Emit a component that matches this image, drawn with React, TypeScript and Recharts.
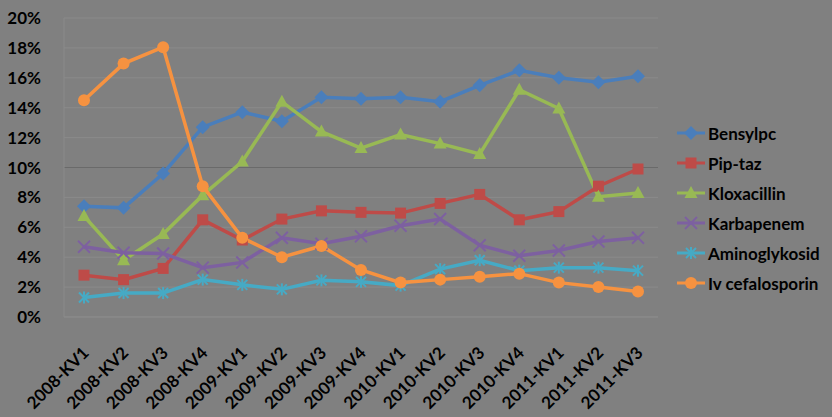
import React from "react";
import {
  LineChart,
  Line,
  XAxis,
  YAxis,
  CartesianGrid,
  ReferenceLine,
} from "recharts";

const quarters = [
  "2008-KV1", "2008-KV2", "2008-KV3", "2008-KV4",
  "2009-KV1", "2009-KV2", "2009-KV3", "2009-KV4",
  "2010-KV1", "2010-KV2", "2010-KV3", "2010-KV4",
  "2011-KV1", "2011-KV2", "2011-KV3",
];

const bensylpc = [7.4, 7.3, 9.6, 12.7, 13.7, 13.1, 14.7, 14.6, 14.7, 14.4, 15.5, 16.5, 16.0, 15.7, 16.1];
const pipTaz = [2.8, 2.5, 3.25, 6.5, 5.15, 6.55, 7.1, 7.0, 6.95, 7.6, 8.2, 6.5, 7.05, 8.75, 9.9];
const kloxacillin = [6.75, 3.8, 5.55, 8.15, 10.4, 14.4, 12.4, 11.3, 12.2, 11.6, 10.9, 15.2, 13.95, 8.05, 8.3];
const karbapenem = [4.7, 4.3, 4.25, 3.3, 3.65, 5.3, 4.9, 5.4, 6.1, 6.55, 4.8, 4.1, 4.45, 5.05, 5.3];
const aminoglykosid = [1.3, 1.6, 1.6, 2.5, 2.15, 1.85, 2.45, 2.35, 2.1, 3.2, 3.8, 3.1, 3.3, 3.3, 3.1];
const ivCefalosporin = [14.5, 16.95, 18.05, 8.75, 5.3, 4.0, 4.75, 3.15, 2.3, 2.5, 2.7, 2.9, 2.3, 2.0, 1.7];

const yTicks = [0, 2, 4, 6, 8, 10, 12, 14, 16, 18, 20];

const data = quarters.map((q, i) => ({
  q,
  bensylpc: bensylpc[i],
  pipTaz: pipTaz[i],
  kloxacillin: kloxacillin[i],
  karbapenem: karbapenem[i],
  aminoglykosid: aminoglykosid[i],
  ivCefalosporin: ivCefalosporin[i],
}));

const FONT = "Lato, 'DejaVu Sans', sans-serif";

type Shape = "diamond" | "square" | "triangle" | "x" | "star" | "circle";

const series: { key: string; name: string; color: string; shape: Shape }[] = [
  { key: "bensylpc", name: "Bensylpc", color: "#4a7ebb", shape: "diamond" },
  { key: "pipTaz", name: "Pip-taz", color: "#be4b48", shape: "square" },
  { key: "kloxacillin", name: "Kloxacillin", color: "#98b954", shape: "triangle" },
  { key: "karbapenem", name: "Karbapenem", color: "#7d60a0", shape: "x" },
  { key: "aminoglykosid", name: "Aminoglykosid", color: "#46aac5", shape: "star" },
  { key: "ivCefalosporin", name: "Iv cefalosporin", color: "#f69240", shape: "circle" },
];

function Marker({ cx, cy, shape, color }: { cx: number; cy: number; shape: Shape; color: string }) {
  if (cx == null || cy == null) return null;
  switch (shape) {
    case "diamond":
      return <polygon points={`${cx},${cy - 7} ${cx + 7},${cy} ${cx},${cy + 7} ${cx - 7},${cy}`} fill={color} />;
    case "square":
      return <rect x={cx - 5.5} y={cy - 5.5} width={11} height={11} fill={color} />;
    case "triangle":
      return <polygon points={`${cx},${cy - 7} ${cx + 6.5},${cy + 5} ${cx - 6.5},${cy + 5}`} fill={color} />;
    case "x":
      return (
        <g stroke={color} strokeWidth={2}>
          <line x1={cx - 6} y1={cy - 6} x2={cx + 6} y2={cy + 6} />
          <line x1={cx - 6} y1={cy + 6} x2={cx + 6} y2={cy - 6} />
        </g>
      );
    case "star":
      return (
        <g stroke={color} strokeWidth={2}>
          <line x1={cx - 5} y1={cy - 5} x2={cx + 5} y2={cy + 5} />
          <line x1={cx - 5} y1={cy + 5} x2={cx + 5} y2={cy - 5} />
          <line x1={cx} y1={cy - 6} x2={cx} y2={cy + 6} />
        </g>
      );
    default:
      return <circle cx={cx} cy={cy} r={6} fill={color} />;
  }
}

// rotated category labels, bold like the original
const XTick = (props: any) => {
  const { x, y, payload } = props;
  return (
    <g transform={`translate(${x + 6},${y + 29})`}>
      <text
        transform="rotate(-45)"
        textAnchor="end"
        fontFamily={FONT}
        fontWeight={700}
        fontSize={17}
        fill="#000"
      >
        {payload.value}
      </text>
    </g>
  );
};

export default function App() {
  return (
    <div style={{ position: "absolute", left: 0, top: 0, width: 832, height: 417, background: "#808080" }}>
      <LineChart
        width={832}
        height={417}
        data={data}
        margin={{ top: 18, right: 174, bottom: 10, left: 0 }}
      >
        <CartesianGrid stroke="#8a8a8a" strokeWidth={1} vertical={false} />
        <XAxis
          dataKey="q"
          interval={0}
          height={90}
          padding={{ left: 20, right: 20 }}
          tick={<XTick />}
          axisLine={{ stroke: "#8a8a8a" }}
          tickLine={false}
        />
        <YAxis
          width={64}
          domain={[0, 20]}
          ticks={yTicks}
          tickFormatter={(v) => `${v}%`}
          tick={{ fill: "#000", fontFamily: FONT, fontWeight: 700, fontSize: 17 }}
          axisLine={{ stroke: "#8a8a8a" }}
          tickLine={false}
          tickMargin={17}
        />
        <ReferenceLine y={10} stroke="#6a6a6a" strokeWidth={1} />
        {series.map((s) => (
          <Line
            key={s.key}
            dataKey={s.key}
            name={s.name}
            stroke={s.color}
            strokeWidth={3.5}
            isAnimationActive={false}
            dot={(p: any) => <Marker key={p.index} cx={p.cx} cy={p.cy} shape={s.shape} color={s.color} />}
            activeDot={false}
          />
        ))}
      </LineChart>
      <div
        style={{
          position: "absolute",
          left: 676,
          top: 118,
          fontFamily: FONT,
          fontWeight: 700,
          fontSize: 17,
          color: "#000",
        }}
      >
        {series.map((s) => (
          <div key={s.key} style={{ display: "flex", alignItems: "center", height: 30 }}>
            <svg width={30} height={16} style={{ marginRight: 2 }}>
              <line x1={1} y1={8} x2={29} y2={8} stroke={s.color} strokeWidth={3} />
              <Marker cx={15} cy={8} shape={s.shape} color={s.color} />
            </svg>
            <span>{s.name}</span>
          </div>
        ))}
      </div>
    </div>
  );
}
